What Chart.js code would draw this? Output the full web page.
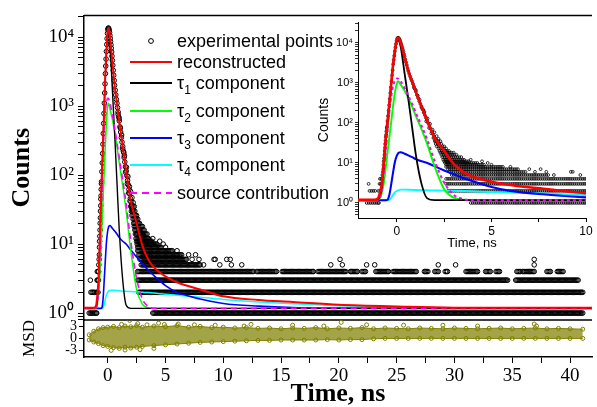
<!DOCTYPE html>
<html>
<head>
<meta charset="utf-8">
<script src="https://cdn.jsdelivr.net/npm/chart.js@4.4.1/dist/chart.umd.min.js"></script>
<style>
  html, body { margin: 0; padding: 0; background: #fff; }
  #wrap { position: relative; width: 597px; height: 407px; overflow: hidden; }
  #wrap canvas { position: absolute; }
  #legend { position: absolute; left: 0; top: 0; font-family: "Liberation Sans", Arial, sans-serif; font-size: 18px; color: #000; }
  .row { position: absolute; left: 128px; height: 22px; line-height: 22px; white-space: nowrap; }
  .row svg { position: absolute; left: 0; top: 0; }
  .row span { position: absolute; left: 49px; top: 0; }
  .row sub { font-size: 12px; vertical-align: -5px; line-height: 0; }
</style>
</head>
<body>
<div id="wrap">
  <canvas id="main" width="597" height="407" style="left:0;top:0"></canvas>
  <canvas id="msd" width="597" height="407" style="left:0;top:0"></canvas>
  <canvas id="inset" width="297" height="260" style="left:300px;top:0"></canvas>
  <div id="legend"></div>
</div>
<script>
// model curves, sampled at curveT (ns)
const curveT = [-2.1, -1.2, -1.0, -0.9, -0.8, -0.7, -0.6, -0.5, -0.4, -0.3, -0.2, -0.1, 0, 0.05, 0.1, 0.2, 0.4, 0.6, 0.8, 1.0, 1.3, 1.6, 2.0, 2.5, 3.0, 3.5, 4, 5, 6, 8, 10, 13, 16, 20, 25, 33, 42]
const reconstructed = [1.19, 1.19, 1.3, 1.8, 3, 10, 40, 110, 320, 1000, 3000, 7000, 12500, 13500, 13200, 10000, 4500, 2000, 1100, 600, 260, 115, 42, 20, 9.5, 6, 4.6, 3.4, 2.8, 2.2, 1.75, 1.55, 1.45, 1.32, 1.25, 1.19, 1.19]
const tau1 = [1.17, 1.17, 1.2, 1.5, 2.5, 8, 30, 95, 300, 950, 2700, 6300, 11500, 12500, 12000, 8000, 1800, 400, 80, 16, 3, 1.3, 1.17, 1.17, 1.17, 1.17, 1.17, 1.17, 1.17, 1.17, 1.17, 1.17, 1.17, 1.17, 1.17, 1.17, 1.17]
const tau2 = [1.17, 1.17, 1.2, 1.3, 1.8, 3, 7, 18, 45, 110, 280, 600, 1000, 1100, 1080, 900, 650, 420, 260, 150, 70, 30, 8, 2.2, 1.35, 1.2, 1.17, 1.17, 1.17, 1.17, 1.17, 1.17, 1.17, 1.17, 1.17, 1.17, 1.17]
const tau3 = [1.17, 1.17, 1.17, 1.17, 1.17, 1.17, 1.17, 1.2, 1.6, 3, 6, 11, 15.5, 17, 18, 18.5, 17, 15.5, 14, 12.5, 11, 10, 8.2, 6.5, 5.2, 4.2, 3.5, 2.5, 2.0, 1.6, 1.38, 1.26, 1.2, 1.18, 1.17, 1.17, 1.17]
const tau4 = [1.17, 1.17, 1.17, 1.17, 1.17, 1.17, 1.17, 1.17, 1.2, 1.35, 1.6, 1.85, 2.0, 2.05, 2.1, 2.15, 2.15, 2.14, 2.12, 2.1, 2.08, 2.07, 2.05, 2.03, 2.0, 1.98, 1.95, 1.88, 1.82, 1.7, 1.58, 1.45, 1.36, 1.28, 1.22, 1.18, 1.17]
const source = [1.17, 1.17, 1.2, 1.4, 2, 5, 18, 60, 200, 480, 850, 1150, 1300, 1300, 1250, 1100, 750, 480, 300, 180, 85, 38, 11, 3.2, 1.6, 1.25, 1.17, 1.17, 1.17, 1.17, 1.17, 1.17, 1.17, 1.17, 1.17, 1.17, 1.17]

// experimental points around the peak [t, counts]
const expPeak = [
  [-0.98, 2], [-0.95, 1], [-0.92, 3], [-0.9, 4], [-0.89, 2], [-0.86, 3], [-0.84, 2], [-0.83, 4], [-0.8, 3], [-0.78, 4],
  [-0.77, 5], [-0.74, 6], [-0.72, 7], [-0.71, 9], [-0.7, 11], [-0.68, 13], [-0.66, 16], [-0.65, 20], [-0.63, 24], [-0.62, 30],
  [-0.6, 36], [-0.59, 45], [-0.57, 50], [-0.56, 62], [-0.54, 75], [-0.53, 80], [-0.5, 112], [-0.47, 150], [-0.44, 205], [-0.41, 280],
  [-0.38, 400], [-0.35, 560], [-0.32, 780], [-0.29, 1100], [-0.26, 1550], [-0.23, 2100], [-0.2, 2950], [-0.17, 3800], [-0.14, 4800], [-0.11, 6200],
  [-0.08, 7800], [-0.05, 9500], [-0.02, 11300], [0.01, 12800], [0.04, 13400], [0.07, 13500], [0.1, 13100], [0.13, 12500], [0.16, 11700], [0.19, 10600],
  [0.22, 9600], [0.25, 8600], [0.28, 7700], [0.31, 6900], [0.34, 6100], [0.37, 5300], [0.4, 4600], [0.44, 3900], [0.48, 3300], [0.52, 2800],
  [0.56, 2350], [0.6, 2000], [0.65, 1700], [0.7, 1450], [0.75, 1250], [0.8, 1100], [0.85, 950], [0.9, 820], [0.9, 760], [0.95, 700],
  [1.0, 610], [1.0, 660], [1.06, 500], [1.1, 480], [1.12, 420], [1.18, 350], [1.2, 380], [1.24, 300], [1.3, 260], [1.3, 240],
  [1.36, 220], [1.4, 210], [1.42, 180], [1.45, 190], [1.48, 155], [1.54, 132], [1.55, 110], [1.6, 115], [1.62, 130], [1.66, 98],
  [1.7, 75], [1.72, 84], [1.75, 95], [1.78, 72], [1.82, 55], [1.84, 62], [1.88, 68], [1.9, 54], [1.93, 42], [1.96, 46],
  [1.98, 58], [2.02, 41], [2.04, 36], [2.08, 37], [2.1, 47], [2.15, 31], [2.2, 40]
]
// runs of dense points on integer count levels [level, from t, to t]
const countRuns = [
  [1, -1.6, -0.95], [1, 3.9, 41.1], [2, -1.45, -1.1], [2, 2.7, 41.1], [3, -1.5, -1.5], [3, 2.6, 34.6], [3, 35.3, 40.7],
  [4, 2.6, 12.6], [4, 12.9, 14.6], [4, 15.1, 17.8], [4, 18.2, 20.6], [4, 21.0, 21.6], [4, 22.0, 22.3], [4, 23.2, 24.3],
  [4, 24.7, 26.7], [4, 27.4, 27.7], [4, 28.3, 28.6], [4, 29.2, 29.4], [4, 31.0, 32.0], [4, 32.7, 33.1], [4, 33.6, 33.9],
  [4, 35.4, 35.7], [4, 35.9, 36.9], [4, 38.0, 38.3], [4, 38.9, 39.4],
  [5, 2.9, 8.0], [6, 2.8, 6.8], [7, 2.7, 6.4], [8, 2.6, 5.6], [9, 2.6, 4.6], [10, 2.55, 4.3], [11, 2.5, 3.8], [12, 2.45, 3.6],
  [14, 2.4, 3.4], [16, 2.35, 3.2], [18, 2.3, 3.0], [20, 2.25, 2.8], [23, 2.2, 2.6], [26, 2.1, 2.5], [30, 2.05, 2.4], [35, 2.0, 2.3]
]
const channelWidth = 0.1
// isolated points in the tail [t, counts]
const expSparse = [
  [8.3, 5], [9.7, 5], [10.7, 5], [11.6, 5], [19.3, 5], [20.3, 5], [22.4, 5], [23.1, 5], [28.6, 5], [30.1, 5], [36.9, 5],
  [7.3, 6], [7.9, 6], [9.2, 6], [9.3, 6], [10.3, 6], [10.6, 6], [20.1, 6], [36.9, 6],
  [7.0, 7], [7.6, 7], [6.0, 8], [5.0, 9], [4.5, 11], [4.8, 10], [3.9, 12]
]

// residuals
const msdT = [-1.6, -1.2, -0.8, -0.4, 0, 0.5, 1, 1.5, 2, 2.5, 3, 4, 5, 6, 7, 8, 9, 10, 11, 12, 13, 14, 15, 16, 17, 18, 19, 20, 21, 22, 23, 24, 25, 26, 27, 28, 29, 30, 31, 32, 33, 34, 35, 36, 37, 38, 39, 40, 41.1]
const msdUpper = [0.8, 1.7, 2.3, 2.6, 2.7, 2.9, 2.6, 3.0, 2.8, 3.1, 2.7, 3.0, 2.8, 3.1, 2.7, 2.9, 2.6, 2.7, 2.5, 2.6, 2.4, 2.5, 2.3, 2.5, 2.4, 2.6, 2.3, 2.5, 2.4, 2.6, 2.3, 2.5, 2.4, 2.3, 2.5, 2.4, 2.3, 2.5, 2.4, 2.3, 2.4, 2.5, 2.3, 2.4, 2.5, 2.3, 2.4, 2.3, 2.2]
const msdLower = [-0.5, -1.0, -1.4, -1.9, -2.1, -2.4, -2.6, -2.3, -2.5, -2.3, -2.1, -1.9, -1.7, -1.5, -1.3, -1.1, -1.0, -0.9, -0.8, -0.7, -0.6, -0.6, -0.5, -0.5, -0.5, -0.5, -0.4, -0.5, -0.4, -0.4, -0.2, -0.1, -0.1, -0.1, -0.1, -0.1, -0.1, -0.1, -0.1, -0.1, -0.1, -0.1, -0.1, -0.1, -0.1, -0.1, -0.1, -0.1, -0.1]
const msdOutliers = [
  [0.3, -3.1], [1.2, 3.4], [1.9, 4.4], [2.6, 3.6], [3.4, 3.3], [4.4, 3.7], [4.9, 3.4], [6.1, 3.5], [7.5, 3.3], [9.3, 3.2],
  [11.8, 3.0], [12.4, 3.4], [16.0, 3.2], [18.7, 3.0], [20.2, 3.9], [22.4, 3.3], [25.6, 3.2], [29.0, 3.2], [32.0, 3.0],
  [36.9, 3.5], [37.1, 3.0], [1.5, -3.0], [2.8, -2.9], [4.0, -2.6]
]

const decades = [0.1, 1, 10, 100, 1000, 10000]
const mantissas = [1, 2, 3, 4, 5, 6, 7, 8, 9]
const sup = ['⁰', '¹', '²', '³', '⁴']

const red = '#ff0000', olive = '#808000'

function logTicks(lo, hi) {
  const out = []
  decades.forEach((d) => mantissas.forEach((m) => {
    const v = +(d * m).toPrecision(6)
    if (v >= lo && v <= hi) out.push(v)
  }))
  return out
}
function powLabel(v) {
  const e = Math.round(Math.log10(v))
  return e >= 0 && Math.abs(v - Math.pow(10, e)) < 1e-9 ? '10' + sup[e] : ''
}

const expPoints = expPeak.map(([t, n]) => ({ x: t, y: n }))
countRuns.forEach(([level, t0, t1]) => {
  for (let t = t0; t <= t1 + 1e-9; t += channelWidth) expPoints.push({ x: t, y: level })
})
expSparse.forEach(([t, n]) => expPoints.push({ x: t, y: n }))

function curve(values, color, width, dash) {
  return {
    data: curveT.map((t, i) => ({ x: t, y: values[i] })),
    showLine: true, borderColor: color, borderWidth: width, borderDash: dash || [],
    pointRadius: 0, cubicInterpolationMode: 'monotone', fill: false
  }
}
function curveSets(scale) {
  return [
    curve(reconstructed, red, 2 * scale),
    curve(source, '#ff00ff', 1.6 * scale, scale > 1 ? [3, 3] : [6, 4]),
    curve(tau1, '#000000', 1.4 * scale),
    curve(tau2, '#00ff00', 1.5 * scale),
    curve(tau3, '#0000ff', 1.6 * scale),
    curve(tau4, '#00ffff', 1.5 * scale)
  ]
}

const frameLines = {
  id: 'frameLines',
  afterDraw(chart, args, opts) {
    const { ctx, chartArea: a } = chart
    ctx.save()
    ctx.strokeStyle = '#000'
    ctx.lineWidth = 1.5
    ctx.beginPath()
    if (opts.top) { ctx.moveTo(a.left, a.top); ctx.lineTo(a.right, a.top) }
    if (opts.bottom) { ctx.moveTo(a.left, a.bottom); ctx.lineTo(a.right, a.bottom) }
    ctx.stroke()
    ctx.restore()
  }
}

Chart.defaults.font.family = "'Liberation Serif', 'Times New Roman', serif"
Chart.defaults.color = '#000'

const xMin = -2.05, xMax = 41.9
const axisGrid = { drawOnChartArea: false, tickLength: 6, color: '#000', tickWidth: 1 }

// main decay panel
new Chart(document.getElementById('main'), {
  type: 'scatter',
  data: {
    datasets: [
      ...curveSets(1),
      { data: expPoints, pointRadius: 2.3, pointBorderWidth: 1, pointBorderColor: '#000', pointBackgroundColor: 'rgba(0,0,0,0)' }
    ]
  },
  options: {
    responsive: false, animation: false, events: [],
    layout: { padding: { left: 0, right: 0, top: 11, bottom: 87 } },
    plugins: { legend: { display: false }, tooltip: { enabled: false }, frameLines: { top: true, bottom: true } },
    scales: {
      x: { type: 'linear', min: xMin, max: xMax, display: false },
      y: {
        type: 'logarithmic', min: 0.794, max: 20600,
        afterFit: (s) => { s.width = 84 },
        afterBuildTicks: (s) => { s.ticks = logTicks(0.794, 20600).map((v) => ({ value: v })) },
        border: { color: '#000', width: 1.5 },
        grid: axisGrid,
        ticks: { autoSkip: false, padding: 4, font: { size: 19 }, callback: powLabel },
        title: { display: true, text: 'Counts', font: { size: 26, weight: 'bold' }, padding: { top: 7, bottom: 0 } }
      }
    }
  },
  plugins: [frameLines]
})

// residual panel
new Chart(document.getElementById('msd'), {
  type: 'scatter',
  data: {
    datasets: [
      { data: msdT.map((t, i) => ({ x: t, y: msdLower[i] })), showLine: true, borderColor: olive, borderWidth: 1,
        pointRadius: 2, pointBorderColor: olive, pointBackgroundColor: 'rgba(0,0,0,0)', fill: false },
      { data: msdT.map((t, i) => ({ x: t, y: msdUpper[i] })), showLine: true, borderColor: olive, borderWidth: 1,
        pointRadius: 2, pointBorderColor: olive, pointBackgroundColor: 'rgba(0,0,0,0)',
        fill: '-1', backgroundColor: 'rgba(128,128,0,0.72)' },
      { data: msdOutliers.map(([t, v]) => ({ x: t, y: v })), pointRadius: 2, pointBorderWidth: 1,
        pointBorderColor: olive, pointBackgroundColor: 'rgba(0,0,0,0)' }
    ]
  },
  options: {
    responsive: false, animation: false, events: [],
    layout: { padding: { left: 0, right: 0, top: 320, bottom: 0 } },
    plugins: { legend: { display: false }, tooltip: { enabled: false } },
    scales: {
      x: {
        type: 'linear', min: xMin, max: xMax,
        afterFit: (s) => { s.height = 50 },
        border: { color: '#000', width: 1.5 },
        grid: axisGrid,
        ticks: { stepSize: 2.5, includeBounds: false, autoSkip: false, maxRotation: 0, padding: 2, font: { size: 19 },
          callback: (v) => (v % 5 === 0 ? String(v) : '') },
        title: { display: true, text: 'Time, ns', font: { size: 26, weight: 'bold', lineHeight: 1 }, padding: { top: 0, bottom: 0 } }
      },
      y: {
        type: 'linear', min: -4.75, max: 4.5,
        afterFit: (s) => { s.width = 84 },
        border: { color: '#000', width: 1.5 },
        grid: { drawOnChartArea: false, tickLength: 5, color: '#000', tickWidth: 1 },
        ticks: { stepSize: 3, includeBounds: false, autoSkip: false, padding: 2, font: { size: 14 } },
        title: { display: true, text: 'MSD', font: { size: 17 }, padding: { top: 19, bottom: 0 } }
      }
    }
  }
})

// inset: first 10 ns
const sans = "'Liberation Sans', Arial, sans-serif"
new Chart(document.getElementById('inset'), {
  type: 'scatter',
  data: {
    datasets: [
      ...curveSets(1.3),
      { data: expPoints, pointRadius: 1.4, pointBorderWidth: 0.8, pointBorderColor: '#000', pointBackgroundColor: 'rgba(0,0,0,0)' }
    ]
  },
  options: {
    responsive: false, animation: false, events: [],
    layout: { padding: { left: 0, right: 11, top: 22, bottom: 0 } },
    plugins: { legend: { display: false }, tooltip: { enabled: false } },
    scales: {
      x: {
        type: 'linear', min: -2.06, max: 10,
        afterFit: (s) => { s.height = 42 },
        border: { color: '#000', width: 1 },
        grid: { drawOnChartArea: false, tickLength: 4, color: '#000', tickWidth: 1 },
        ticks: { stepSize: 2.5, includeBounds: false, autoSkip: false, maxRotation: 0, padding: 2, font: { family: sans, size: 12 },
          callback: (v) => (v % 5 === 0 ? String(v) : '') },
        title: { display: true, text: 'Time, ns', font: { family: sans, size: 13 }, padding: { top: 0, bottom: 9 } }
      },
      y: {
        type: 'logarithmic', min: 0.42, max: 33500,
        afterFit: (s) => { s.width = 58 },
        afterBuildTicks: (s) => { s.ticks = logTicks(0.42, 33500).map((v) => ({ value: v })) },
        border: { color: '#000', width: 1 },
        grid: { drawOnChartArea: false, tickLength: 3, color: '#000', tickWidth: 0.8 },
        ticks: { autoSkip: false, padding: 2, font: { family: sans, size: 11 }, callback: powLabel },
        title: { display: true, text: 'Counts', font: { family: sans, size: 14 }, padding: { top: 16, bottom: 0 } }
      }
    }
  }
})

// legend
const legendRows = [
  { html: 'experimental points', marker: 'point', y: 41 },
  { html: 'reconstructed', color: '#ff0000', y: 62 },
  { html: 'τ<sub>1</sub> component', color: '#000000', y: 83 },
  { html: 'τ<sub>2</sub> component', color: '#00ff00', y: 111 },
  { html: 'τ<sub>3</sub> component', color: '#0000ff', y: 138 },
  { html: 'τ<sub>4</sub> component', color: '#00ffff', y: 165 },
  { html: 'source contribution', color: '#ff00ff', dash: true, y: 193 }
]
const legend = document.getElementById('legend')
legendRows.forEach((r) => {
  const row = document.createElement('div')
  row.className = 'row'
  row.style.top = (r.y - 11) + 'px'
  const mark = r.marker === 'point'
    ? '<circle cx="23" cy="11" r="2.4" fill="none" stroke="#000" stroke-width="1"/>'
    : '<line x1="2" y1="11" x2="44" y2="11" stroke="' + r.color + '" stroke-width="2"' + (r.dash ? ' stroke-dasharray="7,5"' : '') + '/>'
  row.innerHTML = '<svg width="46" height="22">' + mark + '</svg><span>' + r.html + '</span>'
  legend.appendChild(row)
})
</script>
</body>
</html>
